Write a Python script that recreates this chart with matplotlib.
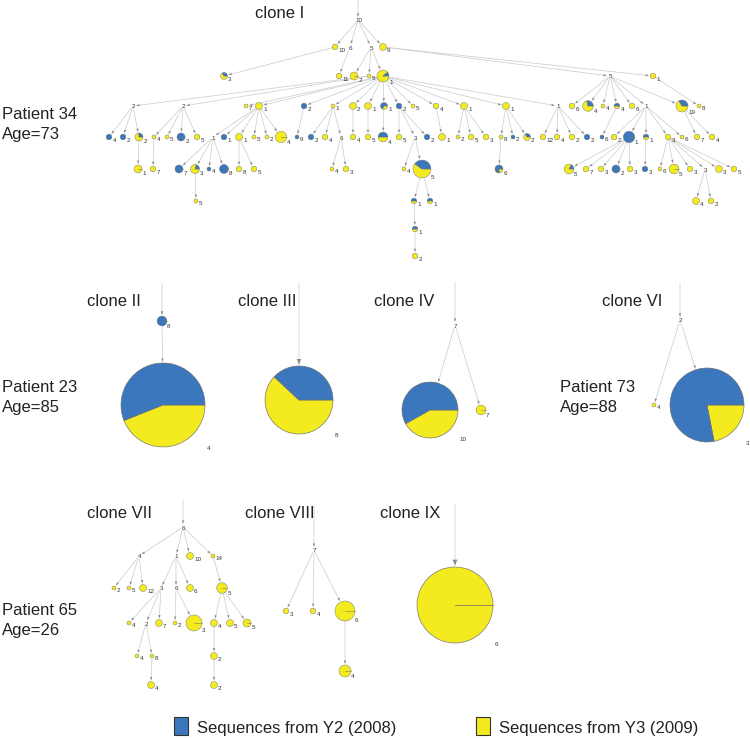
#!/usr/bin/env python3
"""Clone lineage trees, pie nodes = share of Y2 (2008) vs Y3 (2009) sequences.

Writes out.png (750x738). Canvas is laid out in pixel units, y pointing down.
"""
import math

import matplotlib
matplotlib.use("Agg")
import matplotlib.pyplot as plt
from matplotlib.patches import Wedge, Rectangle

plt.rcParams["font.family"] = ["Liberation Sans", "DejaVu Sans"]

BLUE = "#3b77bd"
YELLOW = "#f3ea1f"
EDGE = "#cacaca"
HEAD = "#8c8c8c"
OUTLINE = "#6f6f6f"
RADIAL = "#7d7d5a"
R_SCALE = 2.0   # px of radius per sqrt(sequence count)

# ---------------- data ----------------
# per clone: parent index, node label, count of Y2 (blue) and Y3 (yellow) seqs.
# nodes with 0/0 are unsampled (label only).

# clone I  (patient 34)
CI_PARENT = [-1,
             0, 0, 0, 0,
             1, 2, 3, 3, 3, 4, 4,
             8, 8, 9, 9, 9, 9, 9, 9, 9, 9, 9, 9, 9, 9, 9,
             10, 10, 10, 10, 10, 10, 10, 11,
             12, 12, 12, 13, 13, 13, 13, 15, 15, 15, 15, 15, 15, 16, 17, 17, 17,
             18, 19, 20, 21, 21, 21, 23, 24, 24, 24, 25, 25, 25, 26, 26, 26, 26,
             30, 32, 32, 32, 32, 32, 33, 33,
             37, 38, 42, 42, 42, 42, 44, 44, 51, 51, 56, 56, 62,
             71, 71, 71, 71, 71, 72, 73, 73, 73, 73, 73, 73,
             80, 88, 88, 99, 99,
             103,
             107]
CI_LABEL = ["10",
            "10", "6", "5", "9",
            "3", "11", "2", "5", "1", "5", "1",
            "2", "2", "7", "1", "2", "1", "2", "1", "1", "2", "5", "4", "1", "1", "1",
            "6", "4", "4", "4", "6", "1", "19", "8",
            "4", "2", "2", "4", "5", "2", "5", "1", "1", "1", "5", "2", "4", "9", "2", "4", "6",
            "4", "5", "4", "5", "3", "2", "1", "2", "5", "3", "8", "2", "2", "12", "4", "2", "2",
            "6", "2", "1", "1", "3", "6", "7", "4",
            "1", "7", "7", "3", "4", "8", "8", "5", "4", "3", "4", "5", "6",
            "5", "7", "3", "2", "3", "3", "6", "5", "3", "3", "3", "5",
            "5", "1", "1", "4", "2",
            "1",
            "2"]
CI_Y2 = [0,
         0, 0, 0, 0,
         1, 0, 0, 0, 1, 0, 0,
         0, 0, 0, 0, 2, 0, 0, 0, 2, 2, 0, 0, 0, 0, 0,
         0, 2, 0, 1, 0, 0, 3, 0,
         2, 2, 1, 0, 0, 4, 0, 0, 2, 0, 0, 0, 0, 1, 2, 0, 0,
         0, 0, 3, 0, 0, 2, 0, 0, 0, 0, 0, 1, 1, 0, 0, 0, 2,
         1, 0, 8, 1, 0, 0, 0, 0,
         0, 0, 4, 1, 1, 5, 0, 0, 0, 0, 0, 8, 3,
         1, 0, 0, 4, 0, 2, 0, 0, 0, 0, 0, 0,
         0, 1, 1, 0, 0,
         1,
         0]
CI_Y3 = [0,
         2, 0, 0, 3,
         2, 2, 4, 1, 8, 0, 2,
         0, 0, 1, 3, 0, 1, 3, 3, 1, 0, 1, 2, 3, 3, 0,
         2, 5, 1, 1, 2, 0, 6, 1,
         0, 0, 3, 1, 1, 0, 2, 0, 0, 3, 1, 1, 8, 0, 0, 2, 0,
         2, 2, 3, 2, 0, 0, 3, 1, 2, 2, 1, 0, 2, 2, 2, 2, 0,
         0, 2, 0, 1, 2, 1, 2, 2,
         4, 2, 0, 4, 0, 0, 2, 2, 1, 2, 1, 12, 1,
         5, 2, 2, 0, 2, 0, 1, 6, 2, 0, 3, 2,
         1, 1, 1, 3, 2,
         1,
         2]
# layout: node x (px) and tree depth
CI_X = [358,
        335, 350, 371, 383,
        224, 339, 354, 369, 383, 610, 653,
        133, 183, 246, 259, 304, 333, 353, 368, 384, 399, 413, 436, 464, 506, 558,
        572, 588, 603, 617, 632, 646, 682, 699,
        109, 123, 139, 154, 167, 181, 197, 213, 224, 239, 254, 267, 281, 297, 311, 325, 341,
        353, 368, 383, 399, 415, 427, 442, 458, 471, 486, 501, 513, 527, 543, 557, 572, 587,
        602, 614, 629, 646, 668, 682, 697, 712,
        138, 153, 179, 195, 209, 224, 239, 254, 332, 346, 404, 422, 499,
        569, 586, 601, 616, 630, 645, 660, 674, 690, 705, 719, 734,
        196, 414, 430, 696, 711,
        415,
        415]
CI_LEVEL = ([0] + [1] * 4 + [2] * 7 + [3] * 23 + [4] * 42 + [5] * 25 + [6] * 5 + [7] + [8])
CI_LEVEL_Y = [20, 47, 76, 106, 137, 169, 201, 229, 256]

# clone II (patient 23)
CII_PARENT = [-1, 0]
CII_LABEL = ["8", "4"]
CII_Y2 = [6, 247]
CII_Y3 = [0, 194]
CII_X = [162, 163]
CII_LEVEL = [0, 1]
CII_LEVEL_Y = [321, 405]

# clone III (patient 23)
CIII_PARENT = [-1]
CIII_LABEL = ["8"]
CIII_Y2 = [110]
CIII_Y3 = [179]
CIII_X = [299]
CIII_LEVEL = [0]
CIII_LEVEL_Y = [400]

# clone IV (patient 23)
CIV_PARENT = [-1, 0, 0]
CIV_LABEL = ["7", "10", "7"]
CIV_Y2 = [0, 114, 0]
CIV_Y3 = [0, 82, 6]
CIV_X = [455, 430, 481]
CIV_LEVEL = [0, 1, 1]
CIV_LEVEL_Y = [325, 410]

# clone VI (patient 73)
CVI_PARENT = [-1, 0, 0]
CVI_LABEL = ["2", "4", "3"]
CVI_Y2 = [0, 0, 267]
CVI_Y3 = [0, 1, 75]
CVI_X = [680, 654, 707]
CVI_LEVEL = [0, 1, 1]
CVI_LEVEL_Y = [320, 405]

# clone VII (patient 65)
CVII_PARENT = [-1, 0, 0, 0, 0, 1, 1, 1, 2, 2, 2, 4,
               8, 8, 8, 9, 9, 11, 11, 11, 13, 13, 17, 21, 22]
CVII_LABEL = ["6", "4", "1", "10", "14", "2", "5", "12", "3", "6", "6", "5",
              "4", "2", "7", "2", "3", "4", "5", "5", "4", "8", "2", "4", "2"]
CVII_Y2 = [0] * 25
CVII_Y3 = [0, 0, 0, 3, 1, 1, 1, 3, 0, 0, 3, 7,
           1, 0, 3, 1, 16, 3, 3, 4, 1, 1, 3, 3, 3]
CVII_X = [183, 139, 176, 190, 213, 114, 129, 143, 161, 176, 190, 222,
          129, 146, 159, 175, 194, 214, 230, 247, 137, 152, 214, 151, 214]
CVII_LEVEL = [0, 1, 1, 1, 1, 2, 2, 2, 2, 2, 2, 2,
              3, 3, 3, 3, 3, 3, 3, 3, 4, 4, 4, 5, 5]
CVII_LEVEL_Y = [527, 556, 588, 623, 656, 685]

# clone VIII (patient 65)
CVIII_PARENT = [-1, 0, 0, 0, 3]
CVIII_LABEL = ["7", "3", "4", "6", "4"]
CVIII_Y2 = [0, 0, 0, 0, 0]
CVIII_Y3 = [0, 2, 2, 25, 9]
CVIII_X = [314, 286, 313, 345, 345]
CVIII_LEVEL = [0, 1, 1, 1, 2]
CVIII_LEVEL_Y = [550, 611, 671]

# clone IX (patient 65)
CIX_PARENT = [-1]
CIX_LABEL = ["6"]
CIX_Y2 = [0]
CIX_Y3 = [361]
CIX_X = [455]
CIX_LEVEL = [0]
CIX_LEVEL_Y = [605]

CLONE_NAMES = ["clone I", "clone II", "clone III", "clone IV", "clone VI",
               "clone VII", "clone VIII", "clone IX"]
PATIENTS = ["Patient 34\nAge=73", "Patient 23\nAge=85", "Patient 73\nAge=88",
            "Patient 65\nAge=26"]
LEGEND_LABELS = ["Sequences from Y2 (2008)", "Sequences from Y3 (2009)"]


def draw_clone(ax, xs, levels, level_y, parents, labels, y2, y3, lead_top):
    ys = [level_y[l] for l in levels]
    rs = [R_SCALE * math.sqrt(a + b) for a, b in zip(y2, y3)]
    px2pt = 0.72

    # edges (with the lead-in line from above for the root)
    for i, p in enumerate(parents):
        if p < 0:
            start = (xs[i], lead_top)
            shrink_a = 0
            ms = 4 + 0.1 * rs[i]
        else:
            start = (xs[p], ys[p])
            shrink_a = rs[p] * px2pt + (2 if rs[p] == 0 else 0)
            ms = 4
        shrink_b = rs[i] * px2pt + (2.5 if rs[i] == 0 else 1)
        ax.annotate("", xy=(xs[i], ys[i]), xytext=start,
                    arrowprops=dict(arrowstyle="-", color=EDGE, lw=0.5,
                                    shrinkA=shrink_a, shrinkB=shrink_b))
        ax.annotate("", xy=(xs[i], ys[i]), xytext=start,
                    arrowprops=dict(arrowstyle="-|>,head_length=0.55,head_width=0.22",
                                    color=HEAD, lw=0, mutation_scale=ms,
                                    shrinkA=shrink_a, shrinkB=shrink_b))

    # nodes
    for x, y, r, a, b, lab in zip(xs, ys, rs, y2, y3, labels):
        n = a + b
        if n == 0:
            ax.text(x + 0.5, y + 1, lab, fontsize=4.5, ha="center", va="center", color="#333333")
            continue
        fy = b / n
        lw = 0.45 if r > 15 else 0.3
        if b > 0:
            ax.add_patch(Wedge((x, y), r, 0, 360 * fy, facecolor=YELLOW,
                               edgecolor=OUTLINE, lw=lw, zorder=3))
        if a > 0:
            ax.add_patch(Wedge((x, y), r, 360 * fy, 360, facecolor=BLUE,
                               edgecolor=OUTLINE, lw=lw, zorder=3))
        if (a == 0 or b == 0) and r >= 4:
            # single-colour pie still shows its start radius
            ax.plot([x, x + r], [y, y], color=RADIAL, lw=0.6 if r > 15 else 0.4, zorder=4)
        off = r + 1.5 if r > 15 else 0.8 * r + 1.2
        ax.text(x + off, y + off, lab, fontsize=4.5, ha="left", va="center", color="#333333")


def main():
    fig = plt.figure(figsize=(7.5, 7.38), dpi=100)
    ax = fig.add_axes([0, 0, 1, 1])
    ax.set_xlim(0, 750)
    ax.set_ylim(738, 0)
    ax.axis("off")

    draw_clone(ax, CI_X, CI_LEVEL, CI_LEVEL_Y, CI_PARENT, CI_LABEL, CI_Y2, CI_Y3, 0)
    draw_clone(ax, CII_X, CII_LEVEL, CII_LEVEL_Y, CII_PARENT, CII_LABEL, CII_Y2, CII_Y3, 283)
    draw_clone(ax, CIII_X, CIII_LEVEL, CIII_LEVEL_Y, CIII_PARENT, CIII_LABEL, CIII_Y2, CIII_Y3, 283)
    draw_clone(ax, CIV_X, CIV_LEVEL, CIV_LEVEL_Y, CIV_PARENT, CIV_LABEL, CIV_Y2, CIV_Y3, 283)
    draw_clone(ax, CVI_X, CVI_LEVEL, CVI_LEVEL_Y, CVI_PARENT, CVI_LABEL, CVI_Y2, CVI_Y3, 283)
    draw_clone(ax, CVII_X, CVII_LEVEL, CVII_LEVEL_Y, CVII_PARENT, CVII_LABEL, CVII_Y2, CVII_Y3, 500)
    draw_clone(ax, CVIII_X, CVIII_LEVEL, CVIII_LEVEL_Y, CVIII_PARENT, CVIII_LABEL, CVIII_Y2, CVIII_Y3, 505)
    draw_clone(ax, CIX_X, CIX_LEVEL, CIX_LEVEL_Y, CIX_PARENT, CIX_LABEL, CIX_Y2, CIX_Y3, 505)

    # clone titles
    title_pos = [(255, 18), (87, 306), (238, 306), (374, 306), (602, 306),
                 (87, 518), (245, 518), (380, 518)]
    for name, (tx, ty) in zip(CLONE_NAMES, title_pos):
        ax.text(tx, ty, name, fontsize=12, ha="left", va="baseline", color="#222222")

    # patient labels
    patient_pos = [(2, 119), (2, 392), (560, 392), (2, 615)]
    for lab, (tx, ty) in zip(PATIENTS, patient_pos):
        first, second = lab.split("\n")
        ax.text(tx, ty, first, fontsize=12, ha="left", va="baseline", color="#222222")
        ax.text(tx, ty + 20, second, fontsize=12, ha="left", va="baseline", color="#222222")

    # legend
    for lab, col, lx in zip(LEGEND_LABELS, [BLUE, YELLOW], [174, 476]):
        ax.add_patch(Rectangle((lx, 717), 14, 18, facecolor=col, edgecolor="#333333", lw=0.8))
        ax.text(lx + 23, 733, lab, fontsize=12, ha="left", va="baseline", color="#222222")

    fig.savefig("out.png", dpi=100)
    plt.close(fig)


if __name__ == "__main__":
    main()
